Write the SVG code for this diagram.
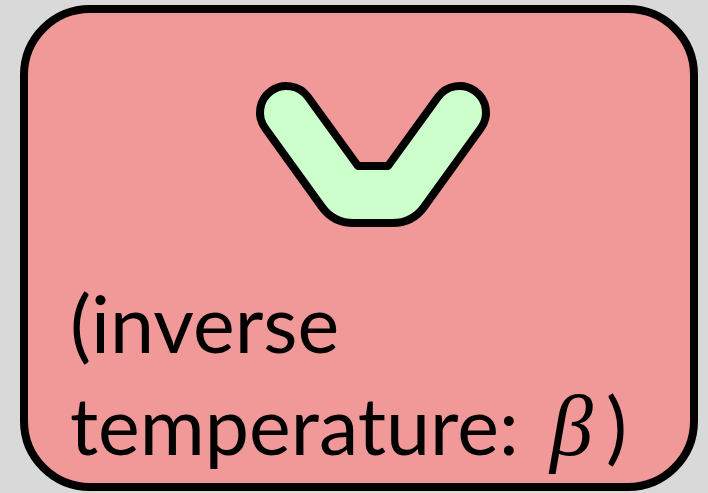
<svg xmlns="http://www.w3.org/2000/svg" width="708" height="493" viewBox="0 0 708 493">
<style>
.lbl{font-family:Lato,"Open Sans","Liberation Sans",sans-serif;font-size:79px;fill:#000}
.math{font-family:"Liberation Serif","DejaVu Serif",serif;font-style:italic;font-size:86px}
</style>
<rect x="0" y="0" width="708" height="493" fill="#d9d9d9"/>
<g id="node-beta">
<rect x="24" y="9" width="670" height="478" rx="66" ry="66" fill="#f19898" stroke="#000" stroke-width="8"/>
<path d="M308,97 A26.5,26.5 0 0 0 265,128 L321.9,206.8 Q333.6,223 353.6,223 L392.4,223 Q412.4,223 424.1,206.8 L481,128 A26.5,26.5 0 0 0 438,97 L388,166 L358,166 Z" fill="#ccffcc" stroke="#000" stroke-width="8" stroke-linejoin="round"/>
<text class="lbl" x="70" y="353">(inverse</text>
<text class="lbl" x="70" y="455">temperature:<tspan class="math" x="550">β</tspan><tspan x="606">)</tspan></text>
</g>
<g id="connectors"/>
</svg>
